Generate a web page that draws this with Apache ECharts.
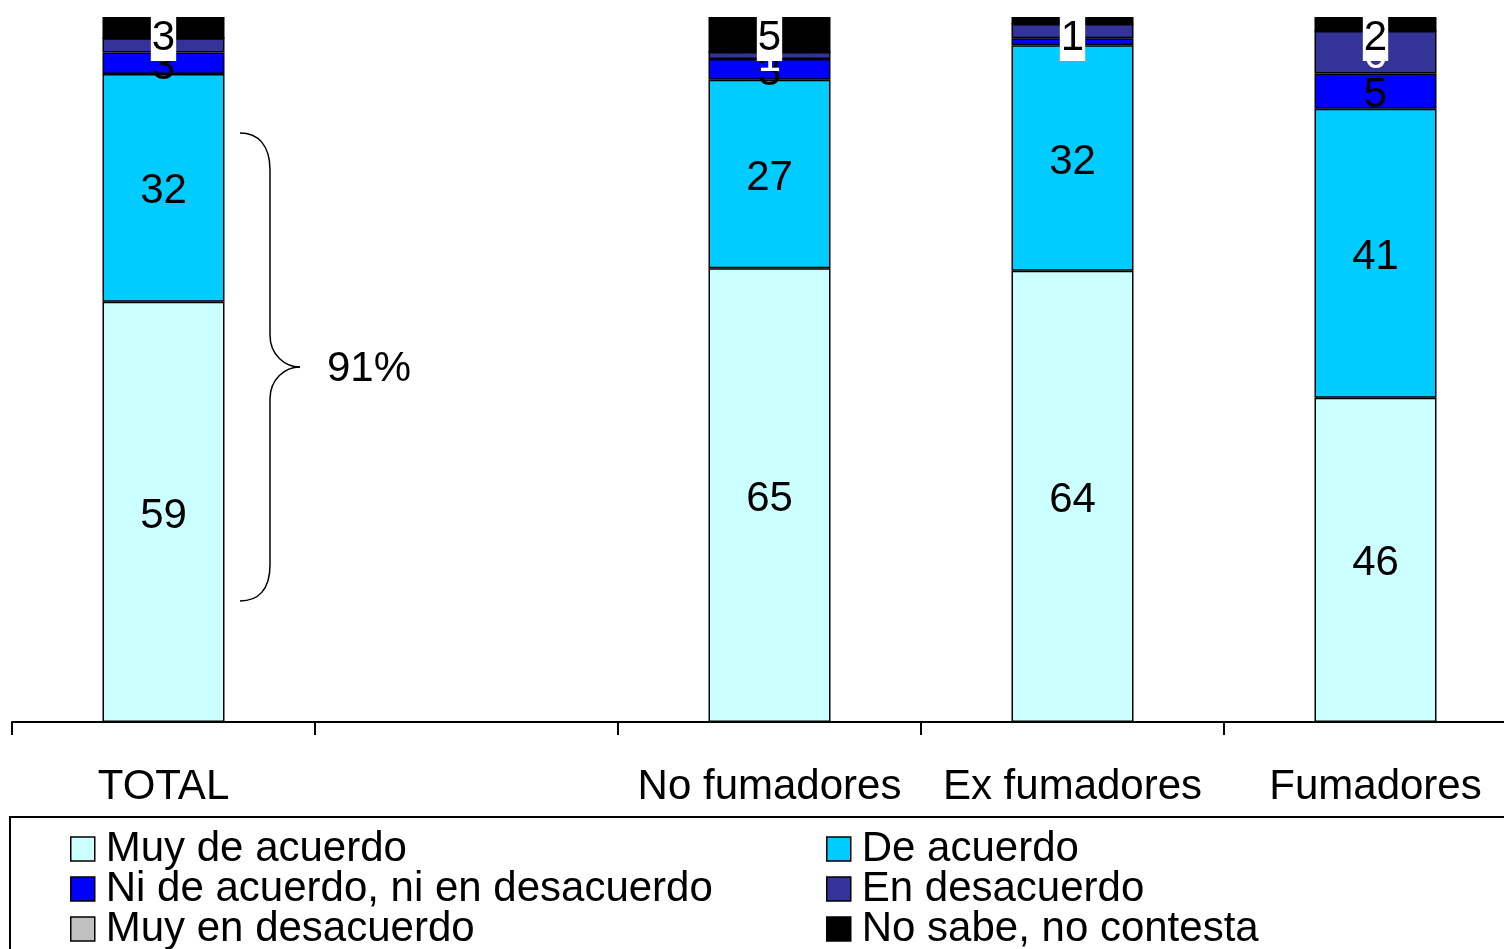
<!DOCTYPE html>
<html>
<head>
<meta charset="utf-8">
<script src="https://cdn.jsdelivr.net/npm/echarts@6/dist/echarts.min.js"></script>
<style>
  html, body { margin: 0; padding: 0; background: #fff; overflow: hidden; }
  #chart { width: 1530px; height: 1000px; }
</style>
</head>
<body>
<div id="chart"></div>
<script>
const categories = ['TOTAL', '', 'No fumadores', 'Ex fumadores', 'Fumadores']
const seriesNames = ['Muy de acuerdo', 'De acuerdo', 'Ni de acuerdo, ni en desacuerdo', 'En desacuerdo', 'Muy en desacuerdo', 'No sabe, no contesta']
const muyDeAcuerdo = [59, null, 65, 64, 46]
const deAcuerdo = [32, null, 27, 32, 41]
const niNi = [3, null, 3, 1, 5]
const enDesacuerdo = [2, null, 1, 2, 6]
const muyEnDesacuerdo = [0, null, 0, 0, 0]
const noSabe = [3, null, 5, 1, 2]
const colors = ['#ccffff', '#00ccff', '#0000ff', '#333399', '#c0c0c0', '#000000']
const labelColors = ['#000', '#000', '#000', '#fff', '#000', '#000']

const rows = [muyDeAcuerdo, deAcuerdo, niNi, enDesacuerdo, muyEnDesacuerdo, noSabe]
// 100% stacked: each column is normalised to its own total, labels keep the raw value
const totals = categories.map((c, i) => rows.reduce((s, r) => s + (r[i] || 0), 0))

const chart = echarts.init(document.getElementById('chart'))
const font = '"Liberation Sans", Arial, sans-serif'

const series = rows.map((row, k) => ({
  name: seriesNames[k],
  type: 'bar',
  stack: 'total',
  barWidth: 122,
  itemStyle: { color: colors[k], borderColor: '#000', borderWidth: 1.5 },
  label: {
    show: true,
    position: k === 5 ? 'insideTop' : 'inside',
    distance: -2,
    offset: k === 5 ? [0, 0] : [0, 4],
    color: labelColors[k],
    fontFamily: font,
    fontSize: 42,
    backgroundColor: k === 5 ? '#fff' : 'transparent',
    padding: k === 5 ? [2, 1, 2, 1] : 0,
    formatter: (p) => (row[p.dataIndex] ? String(row[p.dataIndex]) : '')
  },
  data: row.map((v, i) => (v == null ? null : v / totals[i] * 100))
}))

const legendCommon = {
  orient: 'vertical',
  top: 828,
  padding: 0,
  itemGap: -2,
  itemWidth: 24,
  itemHeight: 24,
  icon: 'rect',
  selectedMode: false,
  itemStyle: { borderColor: '#000', borderWidth: 1.5 },
  textStyle: { fontFamily: font, fontSize: 42, lineHeight: 42, color: '#000', padding: [0, 0, 0, 6] }
}

const braceStyle = { fill: 'none', stroke: '#000', lineWidth: 1.5 }
const curve = (x1, y1, cpx1, cpy1, cpx2, cpy2, x2, y2) => ({
  type: 'bezierCurve',
  shape: { x1, y1, cpx1, cpy1, cpx2, cpy2, x2, y2 },
  style: braceStyle
})
const seg = (x1, y1, x2, y2) => ({ type: 'line', shape: { x1, y1, x2, y2 }, style: braceStyle })

chart.setOption({
  animation: false,
  grid: { left: 12, right: 3, top: 17, bottom: 278 },
  legend: [
    Object.assign({ left: 70, data: [seriesNames[0], seriesNames[2], seriesNames[4]] }, legendCommon),
    Object.assign({ left: 826, data: [seriesNames[1], seriesNames[3], seriesNames[5]] }, legendCommon)
  ],
  xAxis: {
    type: 'category',
    data: categories,
    axisLine: { lineStyle: { color: '#000', width: 2 } },
    axisTick: { show: true, length: 13, interval: 0, lineStyle: { color: '#000', width: 2 } },
    axisLabel: { interval: 0, margin: 44, color: '#000', fontFamily: font, fontSize: 42 }
  },
  yAxis: { type: 'value', min: 0, max: 100, show: false },
  graphic: [
    curve(240, 133, 258, 133, 270, 145, 270, 170),
    seg(270, 170, 270, 335),
    curve(270, 335, 270, 355, 285, 367, 300, 367),
    curve(300, 367, 285, 367, 270, 379, 270, 399),
    seg(270, 399, 270, 565),
    curve(270, 565, 270, 590, 258, 601, 240, 601),
    {
      type: 'text',
      x: 327,
      y: 369,
      style: { text: '91%', font: '42px ' + font, fill: '#000', verticalAlign: 'middle' }
    },
    {
      type: 'rect',
      shape: { x: 10, y: 817, width: 1540, height: 250 },
      style: { fill: 'none', stroke: '#000', lineWidth: 2 }
    }
  ],
  series: series
})
</script>
</body>
</html>
